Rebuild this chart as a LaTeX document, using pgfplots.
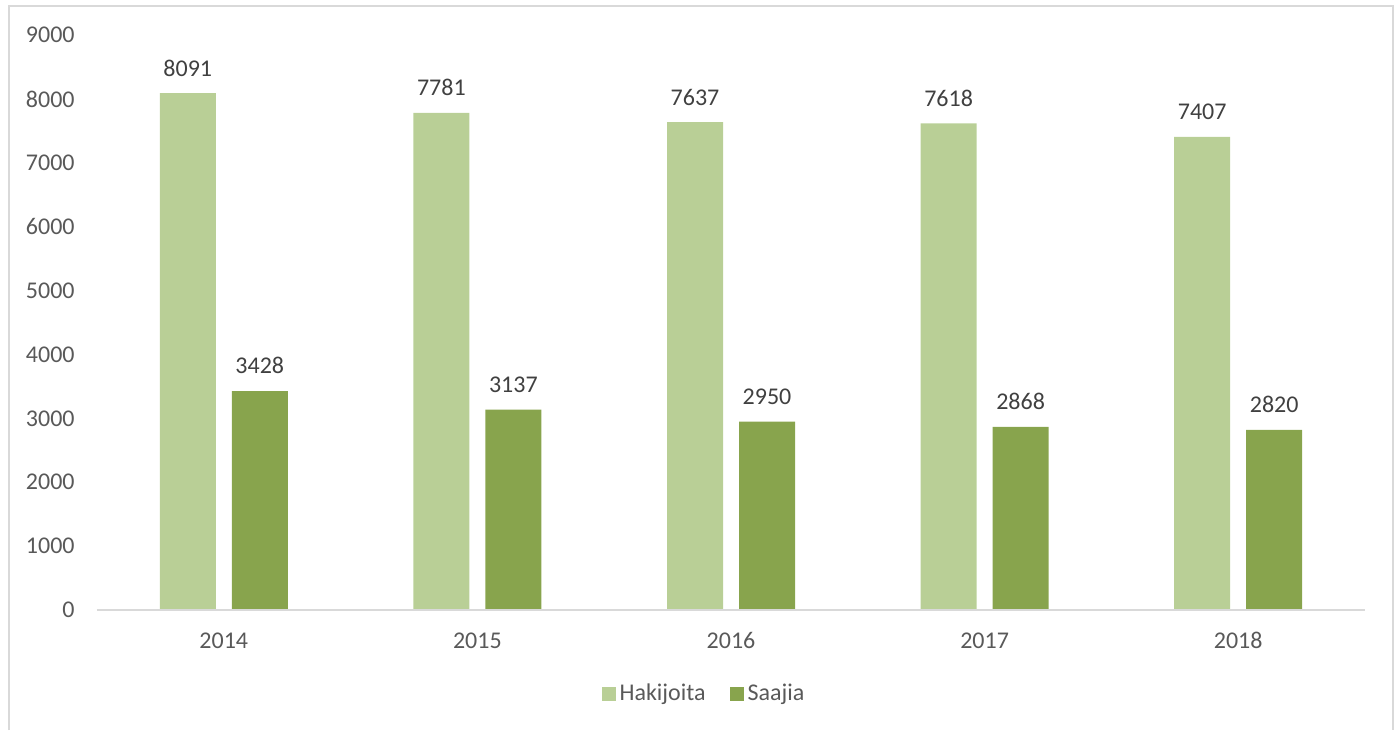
\documentclass[border=0pt]{standalone}
\usepackage{pgfplots}
\pgfplotsset{compat=1.18}
\usepackage{fontspec}
\setmainfont{Carlito}
\definecolor{hak}{HTML}{B9CF96}
\definecolor{saa}{HTML}{88A44D}
\definecolor{tick}{HTML}{595959}
\definecolor{lab}{HTML}{404040}
\definecolor{frame}{HTML}{D9D9D9}
\begin{document}
\begin{tikzpicture}
\useasboundingbox (-48.5pt,-60pt) rectangle (649pt,305pt);
\draw[frame, line width=1pt] (-44pt,-60pt) -- (-44pt,302pt) -- (648pt,302pt) -- (648pt,-60pt);
\begin{axis}[
  scale only axis,
  width=634pt, height=287.5pt,
  xmin=-0.5, xmax=4.5,
  ymin=0, ymax=9000,
  ytick={0,1000,...,9000},
  xtick=data,
  xticklabels={2014,2015,2016,2017,2018},
  axis line style={draw=none},
  major tick length=0pt,
  ybar, bar width=28pt, bar shift=0pt,
  /pgf/number format/assume math mode=true,
  /pgf/number format/1000 sep={},
  tick label style={font=\fontsize{12}{14}\selectfont, text=tick},
  yticklabel style={anchor=east, inner sep=0pt, xshift=-11pt},
  xticklabel style={anchor=base, inner sep=0pt, yshift=-19pt},
  nodes near coords,
  every node near coord/.append style={font=\fontsize{12}{14}\selectfont, text=lab, anchor=base, inner sep=0pt, yshift=8.5pt,
    /pgf/number format/assume math mode=true, /pgf/number format/1000 sep={}},
  legend columns=2,
  legend style={at={(0.4795,-0.146)}, anchor=center, draw=none, fill=none,
    font=\fontsize{12}{14}\selectfont, text=tick, inner sep=0pt,
    /tikz/every even column/.append style={column sep=10pt}},
  legend image code/.code={\fill[#1] (0pt,-3.5pt) rectangle (7pt,3.5pt);},
  clip=false,
]
\addplot[fill=hak, draw=none, bar shift=-18pt] coordinates {(0,8091) (1,7781) (2,7637) (3,7618) (4,7407)};
\addplot[fill=saa, draw=none, bar shift=18pt] coordinates {(0,3428) (1,3137) (2,2950) (3,2868) (4,2820)};
\legend{Hakijoita,Saajia}
\draw[frame, line width=1pt] (rel axis cs:0,0) -- (rel axis cs:1,0);
\end{axis}
\end{tikzpicture}
\end{document}
